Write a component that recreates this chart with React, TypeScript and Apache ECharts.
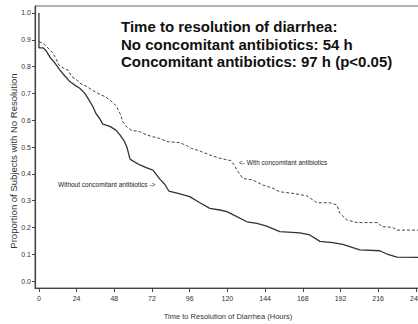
import React, { useEffect, useRef } from "react";
import * as echarts from "echarts";

const xTicks = [0, 24, 48, 72, 96, 120, 144, 168, 192, 216, 240];
const yTicks = [0, 0.1, 0.2, 0.3, 0.4, 0.5, 0.6, 0.7, 0.8, 0.9, 1.0];

// Without concomitant antibiotics (solid)
const withoutT = [0, 0, 2.5, 4.5, 7, 10, 13.4, 16.5, 19.7, 23, 26, 29.3, 32.5, 34.4, 36.3, 38.8, 40.7, 45.2, 49, 51.6, 54, 56, 58, 59.2, 64.3, 68.7, 72.6, 77, 80.2, 82.8, 89.8, 96, 102.5, 108.8, 115.2, 119.7, 126, 132.4, 138.8, 145, 153.4, 166.1, 172.5, 178.9, 187.1, 193.5, 204.3, 217, 222.2, 227.9, 242];
const withoutP = [1.0, 0.87, 0.87, 0.86, 0.835, 0.815, 0.787, 0.765, 0.744, 0.73, 0.719, 0.7, 0.669, 0.65, 0.625, 0.605, 0.585, 0.577, 0.563, 0.545, 0.525, 0.5, 0.455, 0.45, 0.433, 0.422, 0.414, 0.38, 0.36, 0.335, 0.325, 0.315, 0.292, 0.271, 0.265, 0.259, 0.24, 0.221, 0.215, 0.205, 0.184, 0.18, 0.172, 0.148, 0.143, 0.137, 0.116, 0.113, 0.099, 0.089, 0.088];

// With concomitant antibiotics (dashed)
const withT = [0, 2.5, 5.1, 8.9, 10.8, 12.7, 15.3, 18.5, 21, 24.2, 26.1, 30.6, 33.7, 37.6, 42, 45.2, 49, 51.6, 53.5, 55.4, 58.6, 64.3, 68.7, 72.6, 77, 81.5, 86.6, 89.8, 94.2, 97, 102.5, 108.8, 115.2, 122.2, 124.7, 126, 129.9, 136.2, 142.6, 149, 153.4, 161.7, 170.6, 173.8, 177, 185.2, 189.7, 191.6, 196, 202.4, 215.8, 218.3, 225.3, 227.9, 242];
const withP = [0.893, 0.887, 0.874, 0.85, 0.83, 0.806, 0.795, 0.787, 0.762, 0.75, 0.738, 0.725, 0.713, 0.7, 0.688, 0.675, 0.655, 0.626, 0.594, 0.578, 0.563, 0.557, 0.545, 0.538, 0.532, 0.52, 0.518, 0.516, 0.505, 0.495, 0.485, 0.47, 0.458, 0.449, 0.43, 0.414, 0.383, 0.377, 0.358, 0.346, 0.333, 0.327, 0.318, 0.305, 0.292, 0.292, 0.284, 0.253, 0.228, 0.218, 0.218, 0.203, 0.2, 0.19, 0.19];

const titleLines = [
  "Time to resolution of diarrhea:",
  "No concomitant antibiotics: 54 h",
  "Concomitant antibiotics: 97 h (p<0.05)",
];

const FONT = "'Liberation Sans', Arial, sans-serif";

export default function App() {
  const ref = useRef<HTMLDivElement>(null);
  useEffect(() => {
    if (!ref.current) return;
    const chart = echarts.init(ref.current, undefined, { renderer: "svg" });
    const zip = (t: number[], p: number[]) => t.map((v, i) => [v, p[i]]);
    chart.setOption({
      animation: false,
      backgroundColor: "#ffffff",
      textStyle: { fontFamily: FONT },
      grid: {
        left: 35,
        top: 6,
        width: 384,
        height: 282,
        show: true,
        borderColor: "#666",
        borderWidth: 1,
        containLabel: false,
        outerBoundsMode: "none",
      },
      xAxis: {
        type: "value",
        min: -2.5,
        max: 242,
        splitLine: { show: false },
        axisLine: { show: true, onZero: false, lineStyle: { color: "#444", width: 1.2 } },
        axisTick: { show: true, length: 4, customValues: xTicks, lineStyle: { color: "#444" } },
        axisLabel: {
          customValues: xTicks,
          fontSize: 7,
          color: "#333",
          margin: 7,
          fontFamily: FONT,
          hideOverlap: false,
          formatter: (v: number) => String(v),
        },
      },
      yAxis: {
        type: "value",
        min: -0.026,
        max: 1.026,
        splitLine: { show: false },
        axisLine: { show: true, onZero: false, lineStyle: { color: "#444", width: 1.2 } },
        axisTick: { show: true, length: 3, customValues: yTicks, lineStyle: { color: "#444" } },
        axisLabel: {
          customValues: yTicks,
          fontSize: 7,
          color: "#333",
          margin: 4,
          fontFamily: FONT,
          formatter: (v: number) => v.toFixed(1),
        },
      },
      series: [
        {
          type: "line",
          name: "Without concomitant antibiotics",
          data: zip(withoutT, withoutP),
          showSymbol: false,
          symbol: "none",
          lineStyle: { color: "#333", width: 1.3 },
        },
        {
          type: "line",
          name: "With concomitant antibiotics",
          data: zip(withT, withP),
          showSymbol: false,
          symbol: "none",
          lineStyle: { color: "#444", width: 1, type: [3, 2] },
        },
      ],
      graphic: [
        ...titleLines.map((t, i) => ({
          type: "text",
          left: 121,
          top: 19 + i * 17.5,
          style: {
            text: t,
            fontSize: 15,
            fontWeight: "bold",
            fontFamily: FONT,
            fill: "#111",
          },
        })),
        {
          type: "text",
          x: 239,
          y: 162,
          style: {
            text: "<- With concomitant antibiotics",
            fontSize: 6.5,
            fontFamily: FONT,
            fill: "#222",
            verticalAlign: "middle",
          },
        },
        {
          type: "text",
          x: 58,
          y: 184,
          style: {
            text: "Without concomitant antibiotics ->",
            fontSize: 6.5,
            fontFamily: FONT,
            fill: "#222",
            verticalAlign: "middle",
          },
        },
        {
          type: "text",
          x: 228,
          y: 316,
          style: {
            text: "Time to Resolution of Diarrhea (Hours)",
            fontSize: 7.5,
            fontFamily: FONT,
            fill: "#333",
            align: "center",
            verticalAlign: "middle",
          },
        },
        {
          type: "text",
          x: 13,
          y: 161,
          rotation: Math.PI / 2,
          style: {
            text: "Proportion of Subjects with No Resolution",
            fontSize: 9.5,
            fontFamily: FONT,
            fill: "#333",
            align: "center",
            verticalAlign: "middle",
          },
        },
      ],
    });
    return () => chart.dispose();
  }, []);
  return (
    <div
      ref={ref}
      style={{ position: "fixed", left: 0, top: 0, width: 418, height: 324, background: "#fff" }}
    />
  );
}
